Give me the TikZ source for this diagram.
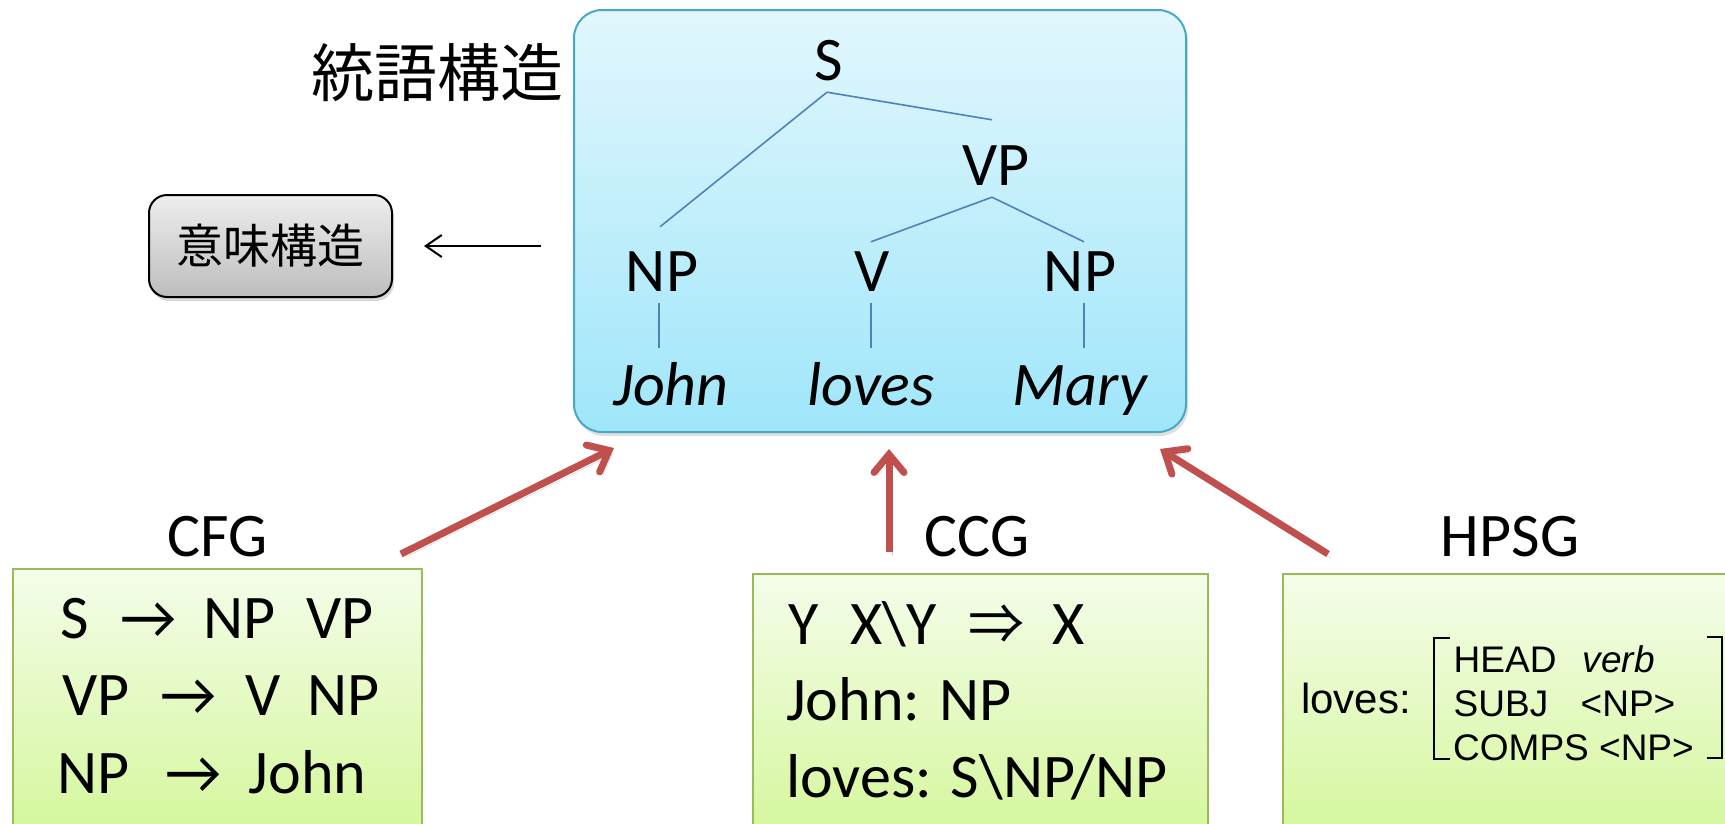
\documentclass[tikz,border=0pt]{standalone}
\usepackage{fontspec}
\setmainfont{Carlito}
\newfontfamily\jpfont{Noto Sans CJK JP}
\newfontfamily\arialfont{Liberation Sans}
\usetikzlibrary{arrows.meta,calc,shadows}

\definecolor{treetop}{HTML}{E2F7FD}
\definecolor{treebot}{HTML}{9FE6FA}
\definecolor{treeedge}{HTML}{46AAC5}
\definecolor{branchcol}{HTML}{4F81BD}
\definecolor{greentop}{HTML}{F4FDEA}
\definecolor{greenbot}{HTML}{D6F79E}
\definecolor{greenedge}{HTML}{9BBB59}
\definecolor{redarrow}{HTML}{C0504D}
\definecolor{graytop}{HTML}{EEEEEE}
\definecolor{graybot}{HTML}{BDBDBD}

% place #2 at horizontal offset #1 from the start of a row
\newcommand\placeat[2]{\makebox[0pt][l]{\hspace*{#1}#2}}
% arrow symbols of the rules
\newcommand\ra{→}
\newcommand\Ra{{\fontsize{56}{60}\jpfont ⇒}}

\begin{document}
\begin{tikzpicture}[x=1pt,y=-1pt,
  big/.style={font=\fontsize{62}{74}\selectfont},
  cat/.style={big,inner sep=0pt,anchor=base,text height=40pt,text depth=0pt},
  word/.style={cat,font=\fontsize{62}{74}\selectfont\itshape},
  row/.style={big,inner sep=0pt,anchor=base west},
  avm/.style={font=\fontsize{37}{44}\arialfont,inner sep=0pt,anchor=base west},
  title/.style={big,inner sep=0pt,anchor=base},
  panel/.style={draw=greenedge,line width=2pt,top color=greentop,bottom color=greenbot,
    inner sep=0pt,minimum height=256pt},
  branch/.style={draw=branchcol,line width=1.6pt},
  feed/.style={draw=redarrow,line width=7pt,
    -{Straight Barb[length=18pt,width=30pt,line cap=round]},
    preaction={draw=black,opacity=.18,transform canvas={shift={(3pt,-4pt)}}}},
  bracket/.style={draw=black,line width=1.8pt}]
\useasboundingbox (0,0) rectangle (1725,823);
\clip (0,0) rectangle (1725,823);

% syntactic tree panel
\node[draw=treeedge,line width=2pt,top color=treetop,bottom color=treebot,
  rounded corners=28pt,minimum width=612pt,minimum height=422pt,inner sep=0pt,
  drop shadow={shadow xshift=2pt,shadow yshift=-4pt,opacity=.25}] (tree) at (880,221) {};

\node[inner sep=0pt,font=\fontsize{63}{70}\jpfont] (synt) at (437,73) {統語構造};

% semantic structure box
\node[draw=black,line width=2pt,top color=graytop,bottom color=graybot,
  rounded corners=18pt,minimum width=243pt,minimum height=102pt,inner sep=0pt,
  drop shadow={shadow xshift=2pt,shadow yshift=-4pt,opacity=.3},
  font=\fontsize{47}{52}\jpfont] (imi) at (270.5,246) {意味構造};

\draw[line width=2pt,-{Straight Barb[length=16pt,width=22pt]}]
  ($(tree.west |- imi.east)+(-32,0)$) -- ($(imi.east)+(31,0)$);

% tree
\node[cat] (S) at (829,80) {S};
\node[cat] (VP) at (996,185) {VP};
\node[cat] (NPa) at (662,291) {NP};
\node[cat] (V) at (872,291) {V};
\node[cat] (NPb) at (1080,291) {NP};
\node[word] (john) at (671,405) {John};
\node[word] (loves) at (871,405) {loves};
\node[word] (mary) at (1080,405) {Mary};

\draw[branch] ($(S.south)+(-2,12)$) -- ($(NPa.north)+(-2,-24)$);
\draw[branch] ($(S.south)+(-2,12)$) -- ($(VP.north)+(-4,-25)$);
\draw[branch] ($(VP.south)+(-4,12)$) -- ($(V.north)+(-1,-9)$);
\draw[branch] ($(VP.south)+(-4,12)$) -- ($(NPb.north)+(4,-9)$);
\draw[branch] ($(NPa.south)+(-3,12)$) -- ($(NPa.south |- john.north)+(-3,-17)$);
\draw[branch] ($(V.south)+(-1,12)$) -- ($(V.south |- loves.north)+(-1,-17)$);
\draw[branch] ($(NPb.south)+(4,12)$) -- ($(NPb.south |- mary.north)+(4,-17)$);

% grammar panels
\node[panel,minimum width=409pt] (cfg) at (217.5,697) {};
\node[panel,minimum width=455pt] (ccg) at (980.5,702) {};
\node[panel,minimum width=460pt] (hpsg) at (1513,702) {};

\node[title] (cfgT) at (218,556) {CFG};
\node[title] (ccgT) at (977,556) {CCG};
\node[title] (hpsgT) at (1510,556) {HPSG};

% CFG rules
\node[row] (cfg1) at (60,638) {\placeat{0pt}{S}\placeat{60pt}{\ra}\placeat{143pt}{NP}\placeat{246pt}{VP}};
\node[row] (cfg2) at (60,715) {\placeat{2pt}{VP}\placeat{100pt}{\ra}\placeat{185pt}{V}\placeat{247pt}{NP}};
\node[row] (cfg3) at (60,793) {\placeat{-3pt}{NP}\placeat{105pt}{\ra}\placeat{188pt}{John}};

% CCG lexicon
\node[row] (ccg1) at (786,644) {\placeat{2pt}{Y}\placeat{64pt}{X\textbackslash Y}\placeat{182pt}{\Ra}\placeat{266pt}{X}};
\node[row] (ccg2) at (786,720) {John: NP};
\node[row] (ccg3) at (786,797) {loves: S\textbackslash NP/NP};

% HPSG lexical entry
\node[inner sep=0pt,anchor=base west,font=\fontsize{42}{50}\arialfont] (hpsgW) at (1301,713) {loves:};
\node[avm] (avm1) at (1453,672) {\placeat{0pt}{HEAD}\placeat{129pt}{\itshape verb}};
\node[avm] (avm2) at (1453,716) {\placeat{0pt}{SUBJ}\placeat{127pt}{<NP>}};
\node[avm] (avm3) at (1453,760) {COMPS <NP>};
\draw[bracket] (1450,638) -- (1434,638) -- (1434,759) -- (1450,759);
\draw[bracket] (1707,637) -- (1722,637) -- (1722,758) -- (1707,758);

% derivation arrows into the tree
\draw[feed] ($(cfg.north east)+(-22,-14)$) -- ($(tree.south west)+(41,15)$);
\draw[feed] ($(ccg.north west)+(137,-21)$) -- ($(tree.south west)+(316,16)$);
\draw[feed] ($(hpsg.north west)+(46,-19)$) -- ($(tree.south east)+(-27,16)$);
\end{tikzpicture}
\end{document}
